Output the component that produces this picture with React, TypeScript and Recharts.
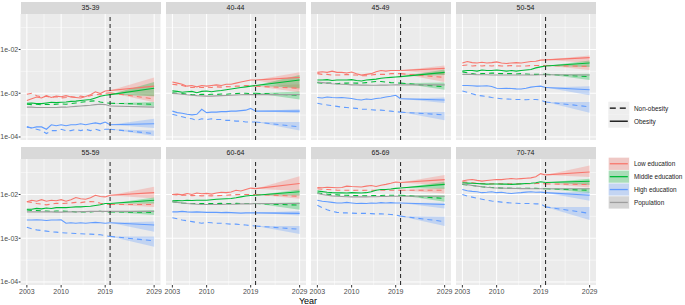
import React from 'react'
import { ComposedChart, Line, Area, XAxis, YAxis, CartesianGrid, ReferenceLine } from 'recharts'

// facet labels (age groups), in reading order
const AGE_GROUPS = ['35-39', '40-44', '45-49', '50-54', '55-59', '60-64', '65-69', '70-74']

const HIST_YEARS = [2003, 2004, 2005, 2006, 2007, 2008, 2009, 2010, 2011, 2012, 2013, 2014, 2015, 2016, 2017, 2018, 2019, 2020]
const PROJ_END = 2029
const CUT_YEAR = 2020

const X_TICKS = [2003, 2010, 2019, 2029]
const X_MINOR = [2006.5, 2014.5, 2024]
const Y_TICKS = [1e-4, 1e-3, 1e-2]
const Y_TICK_LABELS = ['1e-04', '1e-03', '1e-02']
const Y_MINOR = [3.162e-4, 3.162e-3, 3.162e-2]

// observed rates per 1,000, one row per age group (2003..2020)
const lowObesity = [
  [0.68, 0.75, 0.82, 0.78, 0.88, 0.8, 0.86, 0.83, 0.88, 0.82, 0.8, 0.78, 0.84, 0.92, 1.08, 0.98, 1.12, 1.15],
  [1.8, 1.7, 1.6, 1.45, 1.5, 1.4, 1.5, 1.45, 1.5, 1.55, 1.5, 1.6, 1.6, 1.7, 1.8, 1.9, 2.0, 2.0],
  [3.0, 3.1, 3.0, 3.2, 3.0, 3.0, 2.9, 3.05, 2.8, 2.6, 2.7, 2.8, 3.1, 3.3, 3.2, 3.3, 3.3, 3.3],
  [4.9, 5.3, 5.0, 4.9, 5.1, 4.9, 5.0, 5.2, 4.9, 4.8, 4.9, 5.0, 4.9, 5.1, 5.3, 5.4, 5.7, 5.8],
  [6.8, 7.4, 7.0, 7.6, 7.0, 7.4, 7.2, 7.6, 7.0, 7.6, 8.5, 8.0, 7.8, 8.4, 9.6, 9.0, 8.8, 9.6],
  [10, 10.2, 9.8, 10.5, 10, 10.8, 10.4, 10.6, 10.2, 10.8, 11.2, 11, 11.4, 12.5, 12, 13, 14, 13.6],
  [14.4, 14.2, 14.6, 14.4, 14.2, 14.4, 15.5, 15.2, 15, 14.8, 15.5, 16, 15.2, 16.3, 17, 18, 19.3, 18.8],
  [20.4, 21.5, 22, 21, 20.2, 20.8, 21.5, 22, 21.8, 22.5, 23.1, 22.5, 23, 23.5, 24, 25.5, 30, 28],
]
const lowNonObesity = [
  [0.95, 1.0, 0.88, 0.82, 0.85, 0.8, 0.83, 0.78, 0.8, 0.84, 0.8, 0.86, 0.82, 0.88, 0.94, 0.92, 1.0, 1.02],
  [1.6, 1.55, 1.5, 1.4, 1.35, 1.4, 1.35, 1.38, 1.35, 1.4, 1.38, 1.42, 1.4, 1.45, 1.45, 1.5, 1.5, 1.45],
  [2.8, 2.7, 2.7, 2.6, 2.6, 2.6, 2.7, 2.6, 2.6, 2.5, 2.5, 2.6, 2.7, 2.7, 2.7, 2.8, 2.8, 2.8],
  [4.3, 4.4, 4.2, 4.3, 4.2, 4.3, 4.2, 4.3, 4.2, 4.2, 4.3, 4.2, 4.2, 4.2, 4.3, 4.3, 4.3, 4.3],
  [6.8, 6.6, 6.2, 6.0, 5.8, 6.0, 6.3, 6.2, 6.3, 6.4, 6.6, 6.5, 6.8, 6.9, 6.8, 6.3, 6.0, 5.9],
  [10, 9.8, 9.6, 9.7, 9.4, 9.5, 9.3, 9.4, 9.3, 9.4, 9.5, 9.6, 9.8, 9.9, 10, 10, 10, 10],
  [13.5, 13.2, 13, 12.8, 12.6, 12.5, 12.5, 12.4, 12.5, 12.4, 12.5, 12.5, 12.5, 12.6, 12.5, 12.5, 12.5, 12.5],
  [19.5, 19, 18.5, 18, 17.8, 17.8, 17.5, 17.8, 17.6, 17.5, 17.6, 17.5, 17.6, 17.7, 17.6, 17.8, 18, 17.5],
]
const midObesity = [
  [0.59, 0.6, 0.58, 0.58, 0.6, 0.62, 0.61, 0.62, 0.63, 0.65, 0.66, 0.68, 0.7, 0.72, 0.78, 0.85, 0.9, 0.93],
  [1.13, 1.1, 1.05, 1.08, 1.1, 1.03, 1.1, 1.12, 1.08, 1.12, 1.15, 1.2, 1.25, 1.3, 1.35, 1.4, 1.45, 1.5],
  [2.0, 2.0, 2.05, 1.95, 2.0, 2.0, 2.0, 2.05, 1.95, 1.9, 2.0, 2.05, 2.1, 2.2, 2.25, 2.3, 2.35, 2.4],
  [3.2, 3.3, 3.3, 3.2, 3.4, 3.3, 3.3, 3.4, 3.3, 3.2, 3.3, 3.2, 3.3, 3.4, 3.5, 3.8, 4.0, 4.2],
  [4.6, 4.6, 4.8, 4.7, 4.9, 4.8, 5.0, 5.0, 5.0, 5.1, 5.2, 5.2, 5.3, 5.4, 5.6, 5.8, 6.2, 6.2],
  [7.2, 7.3, 7.2, 7.4, 7.3, 7.4, 7.4, 7.4, 7.6, 7.8, 7.9, 8.0, 8.1, 8.4, 8.8, 9.2, 9.5, 9.6],
  [12, 11.6, 11.2, 11, 10.9, 10.9, 10.8, 11, 10.9, 10.8, 11, 11.5, 12.5, 13, 13, 13.3, 13.8, 14.1],
  [18.5, 18.2, 18, 17.8, 17.5, 17.2, 17.3, 17.4, 17.2, 17.2, 17, 17.2, 17.5, 17.8, 18, 18.5, 19.5, 18.8],
]
const midNonObesity = [
  [0.56, 0.55, 0.56, 0.54, 0.56, 0.55, 0.56, 0.57, 0.56, 0.58, 0.6, 0.62, 0.64, 0.66, 0.67, 0.63, 0.6, 0.59],
  [1.02, 1.0, 0.98, 0.95, 0.93, 0.92, 0.95, 0.93, 0.95, 0.94, 0.96, 0.95, 0.97, 0.98, 1.0, 1.0, 0.98, 1.0],
  [1.75, 1.7, 1.7, 1.72, 1.65, 1.7, 1.7, 1.72, 1.7, 1.7, 1.75, 1.8, 1.85, 1.85, 1.8, 1.75, 1.72, 1.7],
  [3.05, 2.95, 2.8, 2.7, 2.8, 2.85, 2.9, 2.85, 2.8, 2.8, 2.8, 2.75, 2.8, 2.75, 2.7, 2.7, 2.7, 2.7],
  [4.4, 4.3, 4.3, 4.2, 4.2, 4.1, 4.2, 4.2, 4.1, 4.1, 4.0, 4.0, 4.0, 4.0, 4.1, 4.1, 4.0, 4.0],
  [6.8, 6.6, 6.4, 6.3, 6.2, 6.25, 6.2, 6.15, 6.2, 6.2, 6.25, 6.2, 6.2, 6.25, 6.2, 6.2, 6.2, 6.2],
  [11, 10.5, 10.2, 10, 9.8, 9.6, 9.6, 9.5, 9.4, 9.4, 9.3, 9.4, 9.5, 9.5, 9.6, 9.6, 9.6, 9.6],
  [17, 16.5, 16, 15.5, 15, 14.6, 14.4, 14.2, 14, 14, 13.9, 13.9, 13.9, 13.9, 13.8, 13.8, 13.7, 13.5],
]
const highObesity = [
  [0.17, 0.16, 0.17, 0.17, 0.15, 0.19, 0.18, 0.19, 0.18, 0.19, 0.19, 0.2, 0.19, 0.2, 0.21, 0.2, 0.22, 0.19],
  [0.39, 0.36, 0.35, 0.33, 0.32, 0.33, 0.43, 0.36, 0.37, 0.37, 0.38, 0.38, 0.39, 0.39, 0.4, 0.41, 0.45, 0.39],
  [0.8, 0.78, 0.82, 0.8, 0.79, 0.8, 0.78, 0.76, 0.72, 0.7, 0.74, 0.72, 0.76, 0.78, 0.82, 0.85, 0.9, 0.75],
  [1.5, 1.5, 1.48, 1.45, 1.46, 1.48, 1.42, 1.3, 1.28, 1.3, 1.28, 1.26, 1.25, 1.3, 1.38, 1.42, 1.45, 1.35],
  [2.6, 2.6, 2.65, 2.6, 2.55, 2.6, 2.6, 2.65, 2.2, 2.25, 2.2, 2.25, 2.2, 2.25, 2.3, 2.25, 2.2, 2.25],
  [4.0, 4.0, 4.1, 4.0, 3.95, 4.0, 3.95, 3.9, 3.9, 3.9, 3.85, 3.9, 3.85, 3.8, 3.75, 3.8, 3.8, 3.8],
  [7.4, 7.0, 6.8, 6.6, 6.4, 6.4, 6.6, 6.4, 6.2, 6.3, 6.2, 6.4, 6.3, 6.5, 6.4, 6.5, 6.4, 6.4],
  [13, 12.2, 11.8, 11.5, 11, 11.2, 11.5, 11, 11.2, 10.8, 10.5, 10.8, 11, 11.3, 11.5, 11.2, 11.3, 11.0],
]
const highNonObesity = [
  [0.17, 0.16, 0.15, 0.14, 0.12, 0.14, 0.14, 0.15, 0.14, 0.14, 0.15, 0.14, 0.15, 0.14, 0.15, 0.14, 0.15, 0.15],
  [0.33, 0.31, 0.29, 0.27, 0.26, 0.24, 0.26, 0.25, 0.26, 0.25, 0.25, 0.24, 0.24, 0.23, 0.23, 0.22, 0.22, 0.22],
  [0.59, 0.56, 0.54, 0.52, 0.5, 0.48, 0.47, 0.46, 0.45, 0.43, 0.43, 0.42, 0.41, 0.41, 0.4, 0.39, 0.38, 0.37],
  [1.13, 1.05, 0.97, 0.9, 0.87, 0.84, 0.8, 0.77, 0.75, 0.74, 0.73, 0.72, 0.72, 0.71, 0.72, 0.72, 0.7, 0.63],
  [1.78, 1.65, 1.55, 1.5, 1.45, 1.4, 1.38, 1.34, 1.32, 1.3, 1.28, 1.27, 1.25, 1.24, 1.22, 1.2, 1.15, 1.1],
  [2.94, 2.8, 2.6, 2.5, 2.4, 2.3, 2.2, 2.3, 2.25, 2.2, 2.2, 2.15, 2.1, 2.1, 2.05, 2.0, 1.95, 1.9],
  [5.7, 5.0, 4.5, 4.1, 3.9, 3.8, 3.8, 3.75, 3.7, 3.7, 3.7, 3.65, 3.6, 3.6, 3.55, 3.5, 3.4, 3.2],
  [10, 9.2, 8.7, 8.2, 7.8, 7.4, 7.1, 6.9, 6.7, 6.5, 6.4, 6.3, 6.2, 6.2, 6.2, 6.1, 6.1, 5.2],
]
const population = [
  [0.48, 0.48, 0.47, 0.47, 0.47, 0.47, 0.47, 0.48, 0.48, 0.49, 0.5, 0.51, 0.52, 0.53, 0.55, 0.56, 0.55, 0.51],
  [0.99, 0.97, 0.95, 0.92, 0.9, 0.88, 0.87, 0.86, 0.86, 0.87, 0.88, 0.89, 0.9, 0.91, 0.92, 0.93, 0.93, 0.93],
  [1.8, 1.75, 1.7, 1.65, 1.62, 1.6, 1.58, 1.55, 1.55, 1.53, 1.53, 1.52, 1.52, 1.53, 1.53, 1.54, 1.55, 1.55],
  [2.7, 2.7, 2.7, 2.65, 2.65, 2.65, 2.6, 2.6, 2.6, 2.6, 2.6, 2.6, 2.6, 2.6, 2.6, 2.6, 2.65, 2.65],
  [4.0, 4.0, 4.0, 4.0, 4.0, 4.0, 3.95, 3.95, 4.0, 4.0, 4.0, 4.05, 4.05, 4.1, 4.1, 4.1, 4.1, 4.1],
  [6.8, 6.6, 6.4, 6.2, 6.1, 6.0, 5.9, 5.9, 5.9, 5.9, 5.9, 6.0, 6.0, 6.0, 6.1, 6.1, 6.1, 6.2],
  [10.5, 10, 9.6, 9.3, 9.1, 9.0, 8.9, 8.8, 8.8, 8.8, 8.8, 8.9, 8.9, 9.0, 9.0, 9.1, 9.1, 9.1],
  [17.5, 16.8, 16, 15.5, 15, 14.6, 14.3, 14.1, 14, 13.9, 13.8, 13.7, 13.6, 13.6, 13.5, 13.5, 13.5, 13.5],
]

// projection at 2029 per 1,000: [estimate, lower, upper]
const lowObesityProj = [[1.45, 0.85, 2.3], [2.3, 1.2, 3.0], [3.7, 2.6, 4.3], [6.5, 4.9, 7.3], [11, 8.1, 15], [17.8, 12, 26], [21.9, 16, 28], [32.6, 25, 46]]
const lowNonObesityProj = [[0.74, 0.62, 0.9], [1.3, 1.05, 1.6], [2.3, 1.8, 2.9], [4.1, 3.4, 4.6], [5.9, 5.2, 6.7], [9.1, 8.0, 10.5], [12.5, 10.5, 14.5], [16.8, 14.5, 19]]
const midObesityProj = [[1.3, 0.85, 1.8], [2.0, 1.3, 2.6], [3.0, 2.6, 3.5], [4.9, 4.0, 5.6], [7.4, 6.2, 8.5], [11.5, 9.5, 13], [17, 13.5, 19.5], [20, 16.5, 23]]
const midNonObesityProj = [[0.56, 0.5, 0.63], [0.9, 0.72, 1.1], [1.4, 1.2, 1.75], [2.4, 2.0, 2.8], [3.9, 3.4, 4.4], [5.7, 4.5, 6.6], [8.1, 6.8, 9.6], [12.5, 10.8, 14]]
const highObesityProj = [[0.2, 0.16, 0.26], [0.39, 0.35, 0.43], [0.7, 0.6, 0.8], [1.2, 0.9, 1.45], [2.0, 1.4, 2.4], [3.7, 3.3, 4.2], [5.9, 4.8, 6.5], [9.6, 7.2, 11.5]]
const highNonObesityProj = [[0.12, 0.105, 0.14], [0.17, 0.14, 0.22], [0.32, 0.24, 0.37], [0.49, 0.36, 0.63], [0.87, 0.64, 1.1], [1.6, 1.25, 1.9], [2.4, 1.9, 3.1], [3.7, 2.6, 5.2]]
const populationProj = [[0.48], [0.93], [1.55], [2.6], [4.1], [6.2], [9.1], [13.5]]

const RED = '#F8766D'
const GREEN = '#00BA38'
const BLUE = '#619CFF'
const GREY = '#9E9E9E'

const SERIES = [
  { key: 'lowO', hist: lowObesity, proj: lowObesityProj, color: RED, dashed: false, band: true },
  { key: 'lowN', hist: lowNonObesity, proj: lowNonObesityProj, color: RED, dashed: true, band: true },
  { key: 'midO', hist: midObesity, proj: midObesityProj, color: GREEN, dashed: false, band: true },
  { key: 'midN', hist: midNonObesity, proj: midNonObesityProj, color: GREEN, dashed: true, band: true },
  { key: 'highO', hist: highObesity, proj: highObesityProj, color: BLUE, dashed: false, band: true },
  { key: 'highN', hist: highNonObesity, proj: highNonObesityProj, color: BLUE, dashed: true, band: true },
  { key: 'pop', hist: population, proj: populationProj, color: GREY, dashed: false, band: false },
]

const COLOR_LEGEND = [
  { label: 'Low education', color: RED, fill: '#EFC8C5' },
  { label: 'Middle education', color: GREEN, fill: '#A9DDB8' },
  { label: 'High education', color: BLUE, fill: '#C4D5F2' },
  { label: 'Population', color: GREY, fill: '#D4D4D4' },
]

// layout
const PLOT_LEFT = 20.5
const PLOT_TOP = 13.5
const PLOT_W = 140
const PLOT_H = 126
const COL_STEP = 145
const ROW_STEP = 145
const STRIP_H = 12
const Y_AXIS_W = 20.5
const X_AXIS_H = 16
const PAD = 12
const Y_DOMAIN = [8.53e-5, 6.47e-2]
const X_DOMAIN = [2001.7, 2030.3]
const FONT = '"Liberation Sans", Arial, Helvetica, sans-serif'

type Row = { year: number; [k: string]: number | number[] | undefined }

function buildRows(p: number): Row[] {
  const n = HIST_YEARS.length
  const rows: Row[] = HIST_YEARS.map((year, j) => {
    const row: Row = { year }
    SERIES.forEach((s) => {
      row[s.key] = s.hist[p][j] / 1000
    })
    return row
  })
  const cut = rows[n - 1]
  const end: Row = { year: PROJ_END }
  SERIES.forEach((s) => {
    const start = s.hist[p][n - 1] / 1000
    cut[s.key + 'P'] = start
    end[s.key + 'P'] = s.proj[p][0] / 1000
    if (s.band) {
      cut[s.key + 'B'] = [start, start]
      end[s.key + 'B'] = [s.proj[p][1] / 1000, s.proj[p][2] / 1000]
    }
  })
  rows.push(end)
  return rows
}

function Panel({ index }: { index: number }) {
  const col = index % 4
  const row = Math.floor(index / 4)
  const showY = col === 0
  const showX = row === 1
  const left = PLOT_LEFT + col * COL_STEP
  const top = PLOT_TOP + row * ROW_STEP
  const yW = showY ? Y_AXIS_W : 0
  const padL = showY ? 0 : PAD
  const xH = showX ? X_AXIS_H : 0
  const data = buildRows(index)
  const tickStyle = { fontSize: 7, fill: '#4D4D4D', fontFamily: FONT }

  return (
    <>
      <div
        style={{
          position: 'absolute',
          left,
          top: top - STRIP_H,
          width: PLOT_W,
          height: STRIP_H,
          background: '#D9D9D9',
          color: '#1A1A1A',
          fontFamily: FONT,
          fontSize: 7,
          lineHeight: `${STRIP_H}px`,
          textAlign: 'center',
        }}
      >
        {AGE_GROUPS[index]}
      </div>
      <div style={{ position: 'absolute', left: left - yW - padL, top }}>
        <ComposedChart
          width={PLOT_W + yW + padL + PAD}
          height={PLOT_H + xH}
          data={data}
          margin={{ top: 0, right: PAD, bottom: 0, left: padL }}
        >
          <CartesianGrid
            fill="#EBEBEB"
            stroke="#FFFFFF"
            strokeWidth={0.5}
            horizontalValues={Y_MINOR}
            verticalValues={X_MINOR}
          />
          <CartesianGrid
            stroke="#FFFFFF"
            strokeWidth={1}
            horizontalValues={Y_TICKS}
            verticalValues={X_TICKS}
          />
          <XAxis
            dataKey="year"
            type="number"
            domain={X_DOMAIN}
            ticks={X_TICKS}
            allowDataOverflow
            hide={!showX}
            height={xH}
            axisLine={false}
            tickLine={{ stroke: '#333333' }}
            tickSize={2.5}
            tickMargin={1.5}
            tick={tickStyle}
            interval={0}
          />
          <YAxis
            type="number"
            scale="log"
            domain={Y_DOMAIN}
            ticks={Y_TICKS}
            allowDataOverflow
            hide={!showY}
            width={yW}
            axisLine={false}
            tickLine={{ stroke: '#333333' }}
            tickSize={1.8}
            tickMargin={0.5}
            tick={tickStyle}
            interval={0}
            tickFormatter={(v: number) => Y_TICK_LABELS[Y_TICKS.indexOf(v)] ?? ''}
          />
          {SERIES.filter((s) => s.band).map((s) => (
            <Area
              key={s.key + 'B'}
              dataKey={s.key + 'B'}
              type="linear"
              stroke="none"
              fill={s.color}
              fillOpacity={0.3}
              dot={false}
              activeDot={false}
              isAnimationActive={false}
            />
          ))}
          {SERIES.map((s) => (
            <Line
              key={s.key + 'P'}
              dataKey={s.key + 'P'}
              type="linear"
              stroke={s.color}
              strokeWidth={1.1}
              strokeDasharray={s.dashed ? '5 4' : undefined}
              dot={false}
              activeDot={false}
              isAnimationActive={false}
            />
          ))}
          {SERIES.map((s) => (
            <Line
              key={s.key}
              dataKey={s.key}
              type="linear"
              stroke={s.color}
              strokeWidth={1.1}
              strokeDasharray={s.dashed ? '5 4' : undefined}
              dot={false}
              activeDot={false}
              isAnimationActive={false}
            />
          ))}
          <ReferenceLine x={CUT_YEAR} stroke="#222222" strokeWidth={1} strokeDasharray="4 3" />
        </ComposedChart>
      </div>
    </>
  )
}

function Legends() {
  const keyX = 608.3
  const keyW = 21
  const textStyle = { fontSize: 6.4, fill: '#1A1A1A', fontFamily: FONT }
  return (
    <svg style={{ position: 'absolute', left: 0, top: 0 }} width={685} height={305}>
      {/* linetype legend */}
      {['Non-obesity', 'Obesity'].map((label, i) => {
        const y = 101.7 + i * 13
        return (
          <g key={label}>
            <rect x={keyX} y={y} width={keyW} height={13} fill="#EEEEEE" />
            <line
              x1={keyX + 1.5}
              x2={keyX + keyW - 1.5}
              y1={y + 6.5}
              y2={y + 6.5}
              stroke="#000000"
              strokeWidth={1.3}
              strokeDasharray={i === 0 ? '6 4' : undefined}
            />
            <text x={634} y={y + 6.5} dominantBaseline="central" {...textStyle}>
              {label}
            </text>
          </g>
        )
      })}
      {/* colour legend */}
      {COLOR_LEGEND.map((item, i) => {
        const y = 157.3 + i * 12.9
        return (
          <g key={item.label}>
            <rect x={keyX} y={y} width={keyW} height={12.9} fill={item.fill} stroke="#FFFFFF" strokeWidth={0.5} />
            <line
              x1={keyX + 1.5}
              x2={keyX + keyW - 1.5}
              y1={y + 6.45}
              y2={y + 6.45}
              stroke={item.color}
              strokeWidth={1.3}
            />
            <text x={634} y={y + 6.45} dominantBaseline="central" {...textStyle}>
              {item.label}
            </text>
          </g>
        )
      })}
      <text
        x={PLOT_LEFT + (3 * COL_STEP + PLOT_W) / 2}
        y={300.5}
        textAnchor="middle"
        dominantBaseline="central"
        fontSize={9}
        fill="#000000"
        fontFamily={FONT}
      >
        Year
      </text>
    </svg>
  )
}

export default function App() {
  return (
    <div
      style={{
        position: 'absolute',
        left: 0,
        top: 0,
        width: 685,
        height: 305,
        background: '#FFFFFF',
        overflow: 'hidden',
      }}
    >
      {AGE_GROUPS.map((_, i) => (
        <Panel key={AGE_GROUPS[i]} index={i} />
      ))}
      <Legends />
    </div>
  )
}
